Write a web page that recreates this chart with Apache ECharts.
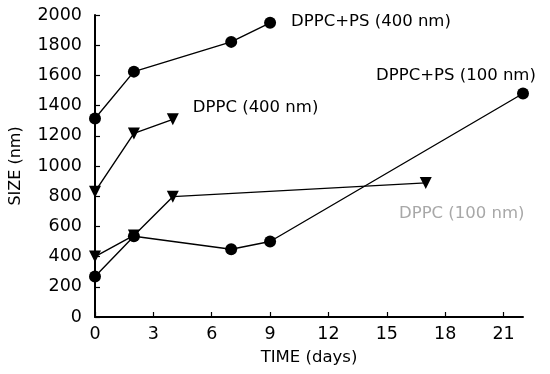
<!DOCTYPE html>
<html>
<head>
<meta charset="utf-8">
<script src="https://cdn.jsdelivr.net/npm/echarts@6/dist/echarts.min.js"></script>
<style>
  html, body { margin: 0; padding: 0; background: #fff; }
  #chart { width: 550px; height: 374px; }
</style>
</head>
<body>
<div id="chart"></div>
<script>
// days
const psLargeDays = [0, 2, 7, 9];
const psLargeSize = [1315, 1625, 1822, 1948];
const dppcLargeDays = [0, 2, 4];
const dppcLargeSize = [830, 1216, 1309];
const dppcSmallDays = [0, 2, 4, 17];
const dppcSmallSize = [400, 540, 797, 888];
const psSmallDays = [0, 2, 7, 9, 22];
const psSmallSize = [268, 535, 449, 500, 1480];

const xTicks = [0, 3, 6, 9, 12, 15, 18, 21];
const yTicks = [0, 200, 400, 600, 800, 1000, 1200, 1400, 1600, 1800, 2000];

const fontFam = '"DejaVu Sans", "Liberation Sans", sans-serif';

const toPoints = (days, vals, lastLabel) => days.map((d, i) => {
	const p = { value: [d, vals[i]] };
	if (i === days.length - 1 && lastLabel) p.label = lastLabel;
	return p;
});

const makeSeries = (name, days, vals, symbol, size, lastLabel) => ({
	name: name,
	type: 'line',
	symbol: symbol,
	symbolSize: size,
	showAllSymbol: true,
	lineStyle: { color: '#000', width: 1.4 },
	itemStyle: { color: '#000' },
	label: { show: false },
	data: toPoints(days, vals, lastLabel),
});

const labelStyle = { show: true, formatter: '{a}', color: '#000', fontSize: 16.5, fontFamily: fontFam };

const chart = echarts.init(document.getElementById('chart'));
const option = {
	backgroundColor: '#fff',
	animation: false,
	grid: { left: 93, right: 27, top: 15, bottom: 57 },
	xAxis: {
		type: 'value',
		min: 0,
		max: 22,
		interval: 3,
		name: 'TIME (days)',
		nameLocation: 'middle',
		nameGap: 32,
		nameTextStyle: { color: '#000', fontSize: 16.5, fontFamily: fontFam },
		splitLine: { show: false },
		axisLine: { lineStyle: { color: '#000', width: 2 } },
		axisTick: { inside: true, length: 5, lineStyle: { color: '#000', width: 1.2 } },
		axisLabel: {
			color: '#000', fontSize: 17.5, fontFamily: fontFam, margin: 8,
			showMaxLabel: false,
			formatter: v => xTicks.includes(v) ? String(v) : ''
		},
	},
	yAxis: {
		type: 'value',
		min: 0,
		max: 2000,
		interval: 200,
		name: 'SIZE (nm)',
		nameLocation: 'middle',
		nameGap: 71,
		nameTextStyle: { color: '#000', fontSize: 16, fontFamily: fontFam },
		splitLine: { show: false },
		axisLine: { show: true, lineStyle: { color: '#000', width: 2 } },
		axisTick: { inside: true, length: 5, lineStyle: { color: '#000', width: 1.2 } },
		axisLabel: {
			color: '#000', fontSize: 17.5, fontFamily: fontFam, margin: 13,
			formatter: v => yTicks.includes(v) ? String(v) : ''
		},
	},
	series: [
		makeSeries('DPPC+PS (400 nm)', psLargeDays, psLargeSize, 'circle', 12,
			Object.assign({}, labelStyle, { position: 'right', distance: 15, offset: [0, -1] })),
		makeSeries('DPPC (400 nm)', dppcLargeDays, dppcLargeSize, 'triangle', 12,
			Object.assign({}, labelStyle, { position: 'right', distance: 14, offset: [0, -12] })),
		makeSeries('DPPC (100 nm)', dppcSmallDays, dppcSmallSize, 'triangle', 12,
			Object.assign({}, labelStyle, { position: 'bottom', distance: 16, offset: [36, 0], color: '#a8a8a8' })),
		makeSeries('DPPC+PS (100 nm)', psSmallDays, psSmallSize, 'circle', 12,
			Object.assign({}, labelStyle, { position: 'top', distance: 3, offset: [-67, 0] })),
	],
};
// inverted triangles
option.series.forEach(s => { if (s.symbol === 'triangle') s.symbolRotate = 180; });
chart.setOption(option);
</script>
</body>
</html>
